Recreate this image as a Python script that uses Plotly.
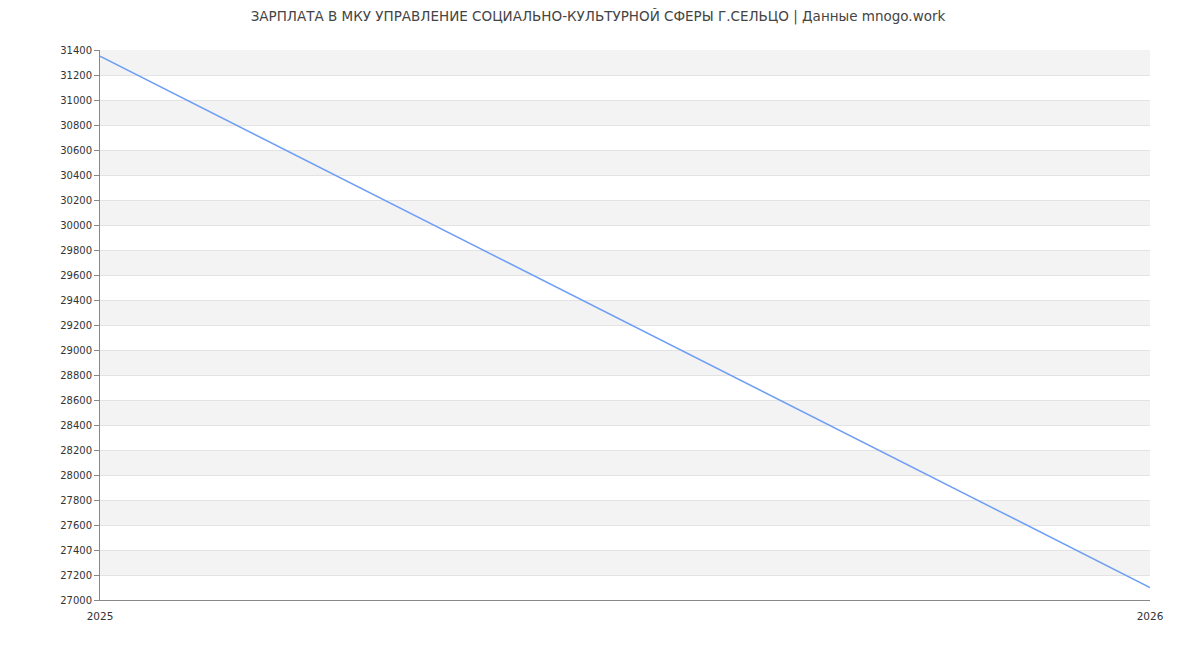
import plotly.graph_objects as go

years = [2025, 2026]
salary = [31350, 27100]
y_ticks = list(range(27000, 31401, 200))
title = "ЗАРПЛАТА В МКУ УПРАВЛЕНИЕ СОЦИАЛЬНО-КУЛЬТУРНОЙ СФЕРЫ Г.СЕЛЬЦО | Данные mnogo.work"

fig = go.Figure()
fig.add_trace(go.Scatter(x=years, y=salary, mode="lines",
                         line=dict(color="#6e9ef5", width=1.5), hoverinfo="x+y"))

shapes = []
for i in range(len(y_ticks) - 1):
    idx_from_top = len(y_ticks) - 2 - i
    if idx_from_top % 2 == 0:
        shapes.append(dict(type="rect", xref="paper", yref="y", x0=0, x1=1,
                           y0=y_ticks[i], y1=y_ticks[i + 1],
                           fillcolor="#f3f3f3", line=dict(width=0), layer="below"))

W, H = 1192, 642
fig.update_layout(
    width=W, height=H,
    margin=dict(l=92, r=50, t=42, b=50),
    paper_bgcolor="white", plot_bgcolor="white",
    font=dict(family="DejaVu Sans", size=11, color="#333"),
    title=dict(text=title, x=590 / W, xanchor="center", y=1 - 8 / H, yanchor="middle",
               font=dict(size=13.5, color="#444")),
    showlegend=False,
    shapes=shapes,
    xaxis=dict(range=[years[0], years[-1]], tickvals=years, ticktext=[str(y) for y in years],
               showgrid=True, gridcolor="#e6e6e6", zeroline=False,
               showline=True, linecolor="#888", linewidth=1,
               ticks="", ticklabelstandoff=6, tickfont=dict(size=10.5)),
    yaxis=dict(range=[y_ticks[0], y_ticks[-1]], tickvals=y_ticks,
               ticktext=[str(v) for v in y_ticks],
               showgrid=True, gridcolor="#e3e3e3", zeroline=False,
               showline=True, linecolor="#888", linewidth=1,
               ticks="outside", ticklen=5, tickcolor="#888", tickfont=dict(size=10)),
)
fig.write_html("out.html")
